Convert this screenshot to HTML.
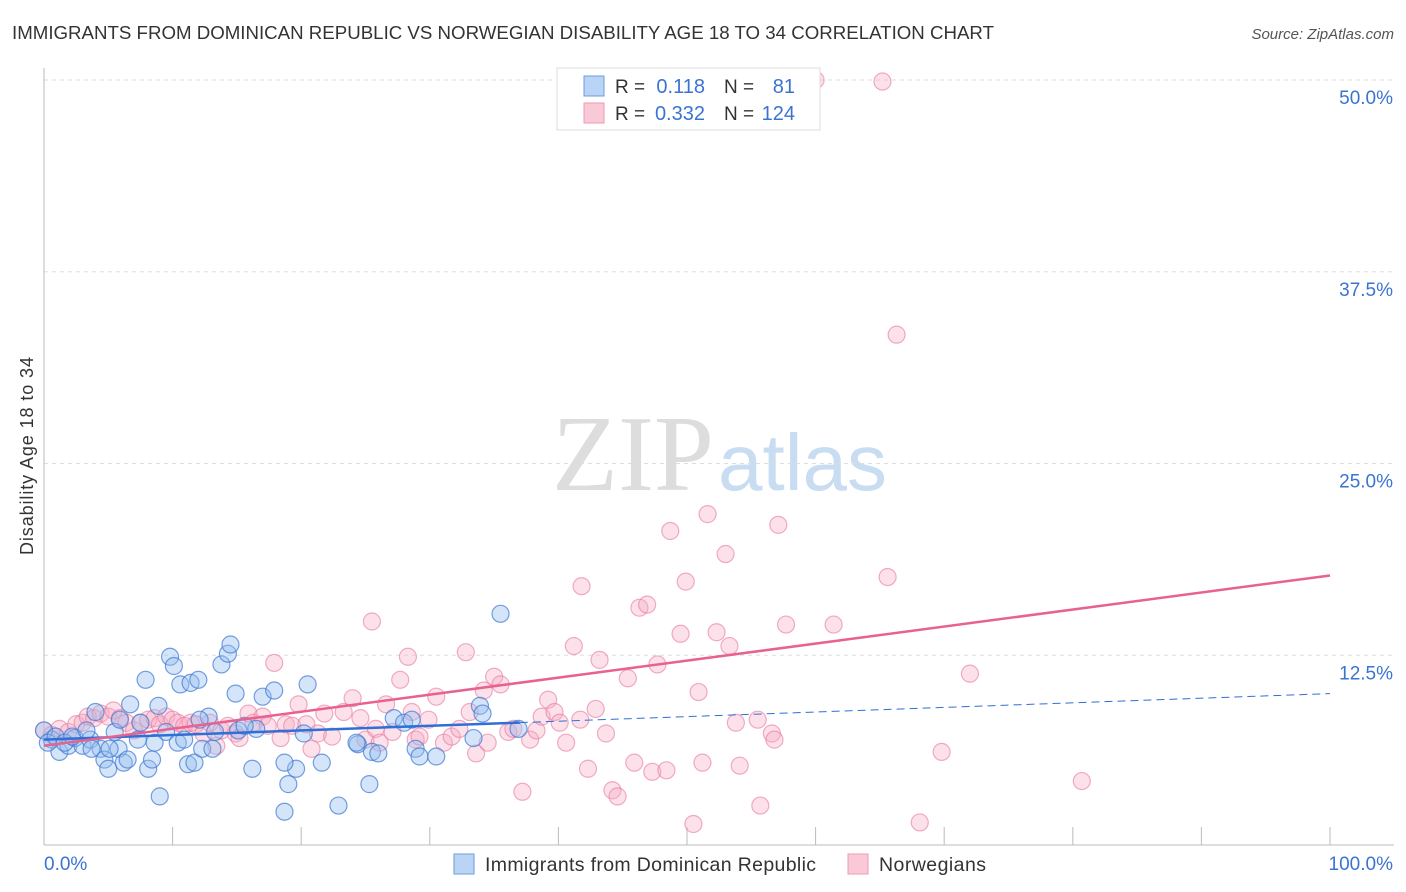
<!DOCTYPE html>
<html><head><meta charset="utf-8"><style>
body{margin:0;background:#fff;font-family:"Liberation Sans",sans-serif;}
#wrap{position:relative;width:1406px;height:892px;overflow:hidden;}
</style></head><body>
<div id="wrap">
<svg id="svg" width="1406" height="892" xmlns="http://www.w3.org/2000/svg" font-family="Liberation Sans, sans-serif">
<text x="12" y="39" font-size="18" fill="#333" textLength="982" lengthAdjust="spacingAndGlyphs">IMMIGRANTS FROM DOMINICAN REPUBLIC VS NORWEGIAN DISABILITY AGE 18 TO 34 CORRELATION CHART</text>
<text x="1394" y="39" font-size="15" fill="#555" font-style="italic" text-anchor="end">Source: ZipAtlas.com</text>
<text x="0" y="0" transform="translate(33,456) rotate(-90)" font-size="18" fill="#333" text-anchor="middle" textLength="198">Disability Age 18 to 34</text>
<text x="714" y="490" font-size="108" fill="#ddd" text-anchor="end" font-family="Liberation Serif, serif">ZIP</text>
<text x="718" y="490" font-size="80" fill="#c8dcf2">atlas</text>
<g id="grid"></g><g id="axes"></g><g id="pts"></g><g id="lines"></g>
<g>
<rect x="557" y="68" width="263" height="62" fill="#fff" stroke="#ddd"/>
<rect x="584" y="76" width="20" height="20" fill="#b9d4f5" stroke="#6a9de0"/>
<rect x="584" y="103" width="20" height="20" fill="#f9c9d8" stroke="#ee9ab5"/>
<text x="615" y="93" font-size="19" fill="#333">R =</text><text x="705" y="93" font-size="20" fill="#3a74d0" text-anchor="end">0.118</text>
<text x="724" y="93" font-size="19" fill="#333">N =</text><text x="795" y="93" font-size="20" fill="#3a74d0" text-anchor="end">81</text>
<text x="615" y="120" font-size="19" fill="#333">R =</text><text x="705" y="120" font-size="20" fill="#3a74d0" text-anchor="end">0.332</text>
<text x="724" y="120" font-size="19" fill="#333">N =</text><text x="795" y="120" font-size="20" fill="#3a74d0" text-anchor="end">124</text>
</g>
<g>
<rect x="454" y="854" width="20" height="20" fill="#b9d4f5" stroke="#6a9de0"/>
<text x="485" y="871" font-size="19.5" fill="#333" textLength="331">Immigrants from Dominican Republic</text>
<rect x="848" y="854" width="20" height="20" fill="#f9c9d8" stroke="#ee9ab5"/>
<text x="879" y="871" font-size="19.5" fill="#333" textLength="107">Norwegians</text>
</g>
</svg>
</div>
<script>
const yTicks=[12.5,25,37.5,50];
const yTickLabels=["12.5%","25.0%","37.5%","50.0%"];
const blueX=[0.6,1.2,1.9,2.4,3.0,3.6,4.0,4.4,4.7,5.0,5.5,5.8,6.2,6.5,6.7,7.3,7.9,8.1,8.4,8.6,8.9,9.0,9.5,9.8,10.1,10.4,10.6,11.2,11.4,11.7,12.0,12.3,12.8,13.1,13.3,13.8,14.3,14.5,14.9,15.1,16.2,16.5,17.0,17.9,18.7,19.0,19.6,20.2,20.5,21.6,22.9,24.4,25.5,26.0,25.3,27.2,28.0,28.6,28.9,29.2,30.5,33.4,33.9,34.1,35.5,36.9,0.0,0.3,0.9,1.6,2.2,3.3,3.7,5.1,5.9,7.5,10.9,12.1,15.6,24.3,18.7];
const blueY=[7.0,6.2,6.6,7.1,6.6,7.0,8.8,6.4,5.7,5.1,7.5,6.4,5.5,5.7,9.3,7.0,10.9,5.1,5.7,6.8,9.2,3.3,7.5,12.4,11.8,6.8,10.6,5.4,10.7,5.5,10.9,6.4,8.5,6.4,7.5,11.9,12.6,13.2,10.0,7.6,5.1,7.7,9.8,10.2,2.3,4.1,5.1,7.4,10.6,5.5,2.7,6.7,6.2,6.1,4.1,8.4,8.1,8.3,6.4,5.9,5.9,7.1,9.2,8.7,15.2,7.7,7.6,6.8,7.2,6.8,7.2,7.6,6.4,6.4,8.3,8.1,7.0,8.3,7.9,6.8,5.5];
const pinkX=[0,0.6,1.2,1.9,2.5,3.0,3.4,3.9,4.4,5.0,5.4,5.9,6.4,7.0,7.5,8.1,8.6,9.0,9.5,10.0,10.4,10.9,11.4,11.8,12.4,12.9,13.4,13.8,14.3,14.9,15.2,15.9,16.3,17.0,17.4,17.9,18.4,18.8,19.3,19.8,20.4,20.8,21.3,21.8,22.4,23.3,24.0,24.6,25.0,25.5,25.8,26.1,26.6,27.1,27.7,28.3,28.6,28.9,29.2,29.9,30.5,31.1,31.7,32.3,32.8,33.1,33.6,34.2,34.5,35.0,35.5,36.1,36.5,37.2,37.8,38.3,38.7,39.2,39.7,40.1,40.6,41.2,41.8,42.3,42.9,43.2,43.7,44.2,44.6,45.4,45.9,46.3,46.9,47.3,47.7,48.4,48.7,49.5,49.9,50.5,50.9,51.2,51.6,52.3,53.0,53.3,53.8,54.1,55.5,55.7,56.6,57.1,57.7,61.4,65.2,65.6,66.3,68.1,69.8,72.0,80.7,60.0,56.8,41.7];
const pinkY=[7.6,7.3,7.7,7.5,8.0,8.1,8.5,8.4,8.7,8.5,8.9,8.4,8.1,7.6,8.1,8.3,8.4,8.0,8.5,8.3,8.1,7.9,8.1,8.0,7.4,8.1,6.6,7.6,7.9,7.4,7.1,8.7,8.1,8.5,7.9,12.0,7.1,8.0,7.9,9.3,8.0,6.4,7.4,8.7,7.2,8.8,9.7,8.4,7.0,14.7,7.7,6.8,9.3,7.5,10.9,12.4,8.8,7.0,7.2,8.3,9.8,6.8,7.2,7.7,12.7,8.8,6.1,10.2,6.8,11.1,10.6,7.5,7.7,3.6,7.0,7.6,8.5,9.6,8.8,8.1,6.8,13.1,17.0,5.1,9.0,12.2,7.4,3.7,3.3,11.0,5.5,15.6,15.8,4.9,11.9,5.0,20.6,13.9,17.3,1.5,10.1,5.5,21.7,14.0,19.1,13.1,8.1,5.3,8.3,2.7,7.4,21.0,14.5,14.5,49.9,17.6,33.4,1.6,6.2,11.3,4.3,50.0,7.0,8.3];
const blueTrend=[7.0,10.0];
const pinkTrend=[6.6,17.7];
const blueSolidEnd=37;
const NS="http://www.w3.org/2000/svg";
const X0=44,X1=1330,Y0=847,Y50=80;
const sx=v=>X0+(X1-X0)*v/100;
const sy=v=>Y0-(Y0-Y50)*v/50;
function mk(tag,attrs,parent){const e=document.createElementNS(NS,tag);for(const k in attrs)e.setAttribute(k,attrs[k]);parent.appendChild(e);return e;}
const grid=document.getElementById('grid'),axes=document.getElementById('axes'),pts=document.getElementById('pts'),lines=document.getElementById('lines');
yTicks.forEach((t,i)=>{
 const l=mk('line',{x1:X0,x2:1394,y1:sy(t),y2:sy(t),stroke:'#ddd','stroke-dasharray':'4,4'},grid);
 
 
 const tx=mk('text',{x:1393,y:sy(t)+24,'font-size':19,fill:'#3a74d0','text-anchor':'end'},grid);
 tx.textContent=yTickLabels[i];
 
 
});
const ya=mk('line',{x1:X0,x2:X0,y1:68,y2:845,stroke:'#bbb'},axes);


const xa=mk('line',{x1:X0,x2:1394,y1:845,y2:845,stroke:'#bbb'},axes);


for(let i=1;i<=10;i++){
 const t=mk('line',{x1:sx(i*10),x2:sx(i*10),y1:827,y2:845,stroke:'#bbb'},axes);
 
 
}
const xl0=mk('text',{x:44,y:870,'font-size':19,fill:'#3a74d0'},axes);xl0.textContent='0.0%';


const xl1=mk('text',{x:1393,y:870,'font-size':19,fill:'#3a74d0','text-anchor':'end'},axes);xl1.textContent='100.0%';


pinkX.forEach((x,i)=>{
 const c=mk('circle',{cx:sx(x),cy:sy(pinkY[i]),r:8.5,fill:'rgba(246,170,195,0.35)',stroke:'rgba(232,120,160,0.6)','stroke-width':1.2},pts);
 
 
});
blueX.forEach((x,i)=>{
 const c=mk('circle',{cx:sx(x),cy:sy(blueY[i]),r:8.5,fill:'rgba(150,190,240,0.4)',stroke:'rgba(60,120,210,0.7)','stroke-width':1.2},pts);
 
 
});
const by=v=>blueTrend[0]+(blueTrend[1]-blueTrend[0])*v/100;
const b1=mk('line',{x1:sx(0),y1:sy(by(0)),x2:sx(blueSolidEnd),y2:sy(by(blueSolidEnd)),stroke:'#2f6fd6','stroke-width':2.5},lines);


const b2=mk('line',{x1:sx(blueSolidEnd),y1:sy(by(blueSolidEnd)),x2:sx(100),y2:sy(by(100)),stroke:'#2f6fd6','stroke-width':1,'stroke-dasharray':'8,5'},lines);


const p1=mk('line',{x1:sx(0),y1:sy(pinkTrend[0]),x2:sx(100),y2:sy(pinkTrend[1]),stroke:'#e8628f','stroke-width':2.5},lines);


</script>
</body></html>
